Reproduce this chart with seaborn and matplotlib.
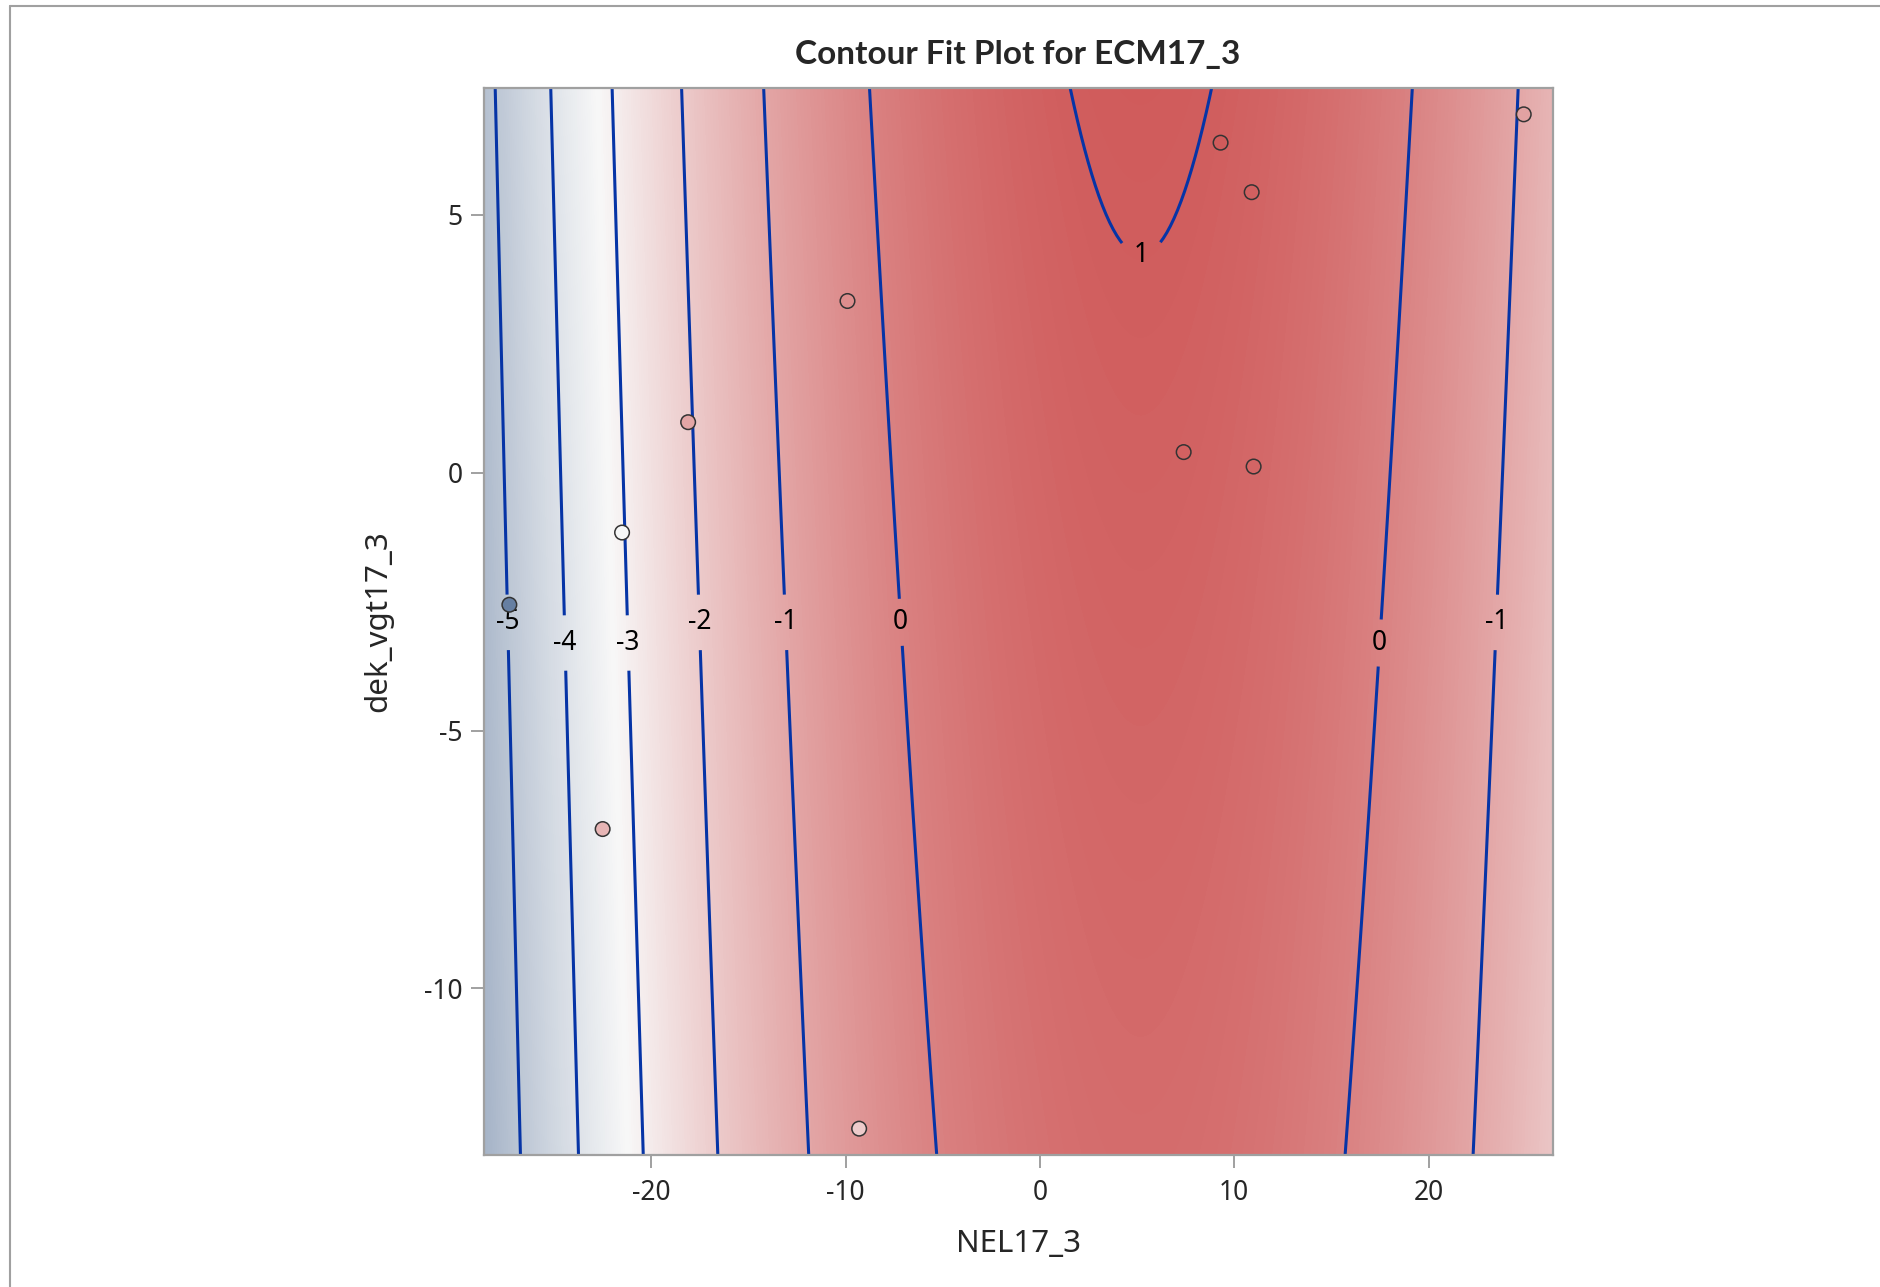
import numpy as np
import pandas as pd
import matplotlib
matplotlib.use('Agg')
import matplotlib.pyplot as plt
import seaborn as sns
from matplotlib.colors import LinearSegmentedColormap, Normalize
from matplotlib.lines import Line2D

# observed points (NEL17_3, dek_vgt17_3) and the response they carry
nel = [-27.3, -21.5, -18.1, -22.5, -9.9, -9.3, 7.4, 11.0, 9.3, 10.9, 24.9]
dek = [-2.56, -1.16, 0.98, -6.91, 3.33, -12.72, 0.40, 0.12, 6.40, 5.44, 6.95]
ecm = [-7.6, -3.3, -1.0, -1.4, -0.3, -2.0, 0.9, 0.8, 1.1, 0.95, -0.9]

# fitted response surface:
# ECM = intercept + slope_dek * dek + curv_nel * (nel - nel_center)^2
intercept = 0.905
slope_dek = 0.0225
curv_nel = -0.0055
nel_center = 5.2

levels = [-5, -4, -3, -2, -1, 0, 1]
label_pos = [(-27.2, -2.9), (-24.2, -3.3), (-21.0, -3.3), (-17.3, -2.9),
             (-13.0, -2.9), (-7.1, -2.9), (17.4, -3.3), (23.3, -2.9), (5.2, 4.05)]

xlim = (-28.6, 26.4)
ylim = (-13.23, 7.47)

sns.set_style('white')
plt.rcParams['font.family'] = ['Noto Sans', 'DejaVu Sans']
plt.rcParams['axes.unicode_minus'] = False

ramp = LinearSegmentedColormap.from_list('ramp', ['#667FA2', '#F8F8F8', '#D05B5B'])
norm = Normalize(vmin=min(ecm), vmax=max(ecm))

fig = plt.figure(figsize=(18.8, 12.87), dpi=100)
ax = fig.add_axes([0.2575, 0.1026, 0.5685, 0.8294])

gx = np.linspace(xlim[0], xlim[1], 300)
gy = np.linspace(ylim[0], ylim[1], 300)
GX, GY = np.meshgrid(gx, gy)
GZ = intercept + slope_dek * GY + curv_nel * (GX - nel_center) ** 2

ax.imshow(GZ, extent=[xlim[0], xlim[1], ylim[0], ylim[1]], origin='lower',
          cmap=ramp, norm=norm, aspect='auto', interpolation='bilinear', zorder=0)
cs = ax.contour(GX, GY, GZ, levels=levels, colors='#0634A6', linewidths=2.2,
                linestyles='solid', zorder=1)
labels = ax.clabel(cs, fmt='%d', manual=label_pos, inline=True, inline_spacing=16,
                   fontsize=19, colors='black')
for t in labels:
    t.set_rotation(0)

pts = pd.DataFrame({'NEL17_3': nel, 'dek_vgt17_3': dek, 'ECM17_3': ecm})
sns.scatterplot(data=pts, x='NEL17_3', y='dek_vgt17_3', hue='ECM17_3',
                palette=ramp, hue_norm=norm, s=110, edgecolor='#333333',
                linewidth=1.1, legend=False, ax=ax, zorder=3)

ax.set_xlim(*xlim)
ax.set_ylim(*ylim)
ax.set_xticks([-20, -10, 0, 10, 20])
ax.set_yticks([-10, -5, 0, 5])
ax.tick_params(direction='out', length=9.5, width=1.2, color='#909090',
               labelsize=19, left=True, bottom=True)
ax.tick_params(axis='x', pad=8)
ax.tick_params(axis='y', pad=6)
for s in ax.spines.values():
    s.set_color('#A0A0A0')
    s.set_linewidth(1.6)
ax.set_xlabel('NEL17_3', fontsize=22.5, labelpad=16)
ax.set_ylabel('dek_vgt17_3', fontsize=22.5, labelpad=22)

fig.text(0.5414, 0.958, 'Contour Fit Plot for ECM17_3', ha='center', va='center',
         fontsize=24, fontweight='bold', family=['Lato', 'DejaVu Sans'])

# outer frame of the graph
fig.add_artist(Line2D([10 / 1880, 10 / 1880], [0, 1 - 6 / 1287], color='#A0A0A0', lw=1.5))
fig.add_artist(Line2D([10 / 1880, 1], [1 - 6 / 1287, 1 - 6 / 1287], color='#A0A0A0', lw=1.5))

plt.savefig('out.png', dpi=100)
